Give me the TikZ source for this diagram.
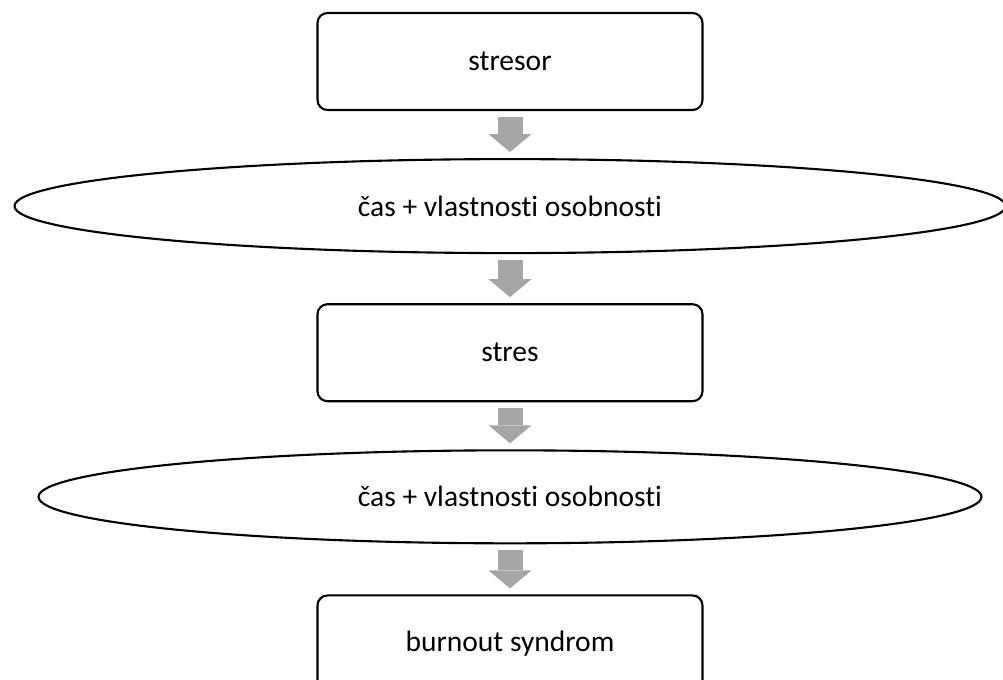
\documentclass[tikz,border=0pt]{standalone}
\usepackage{fontspec}
\setmainfont{Carlito}[Ligatures=NoCommon]
\usetikzlibrary{arrows.meta,positioning,shapes.geometric}

\begin{document}
\begin{tikzpicture}[
  font=\fontsize{21}{25}\selectfont,
  box/.style={draw, line width=1.5pt, rounded corners=0.25cm, minimum width=9.625cm, minimum height=2.425cm},
  oval/.style={draw, ellipse, line width=1.5pt, minimum height=2.35cm},
  flow/.style={line width=0.625cm, draw={rgb,255:red,165;green,165;blue,165}, shorten <=0.14cm, shorten >=0.15cm,
    -{Triangle[length=0.45cm, width=1.075cm, line width=0pt]}}]
\clip (0,0) rectangle (25.075,-17);

\node[box] (stresor) at (12.75,-1.5375) {stresor};
\node[oval, minimum width=24.775cm, below=1.175cm of stresor] (cas1) {čas + vlastnosti osobnosti};
\node[box, below=1.225cm of cas1] (stres) {stres};
\node[oval, minimum width=23.575cm, minimum height=2.325cm, below=1.175cm of stres] (cas2) {čas + vlastnosti osobnosti};
\node[box, below=1.25cm of cas2] (burnout) {burnout syndrom};

\draw[flow] (stresor) -- (cas1);
\draw[flow] (cas1) -- (stres);
\draw[flow] (stres) -- (cas2);
\draw[flow] (cas2) -- (burnout);
\end{tikzpicture}
\end{document}
